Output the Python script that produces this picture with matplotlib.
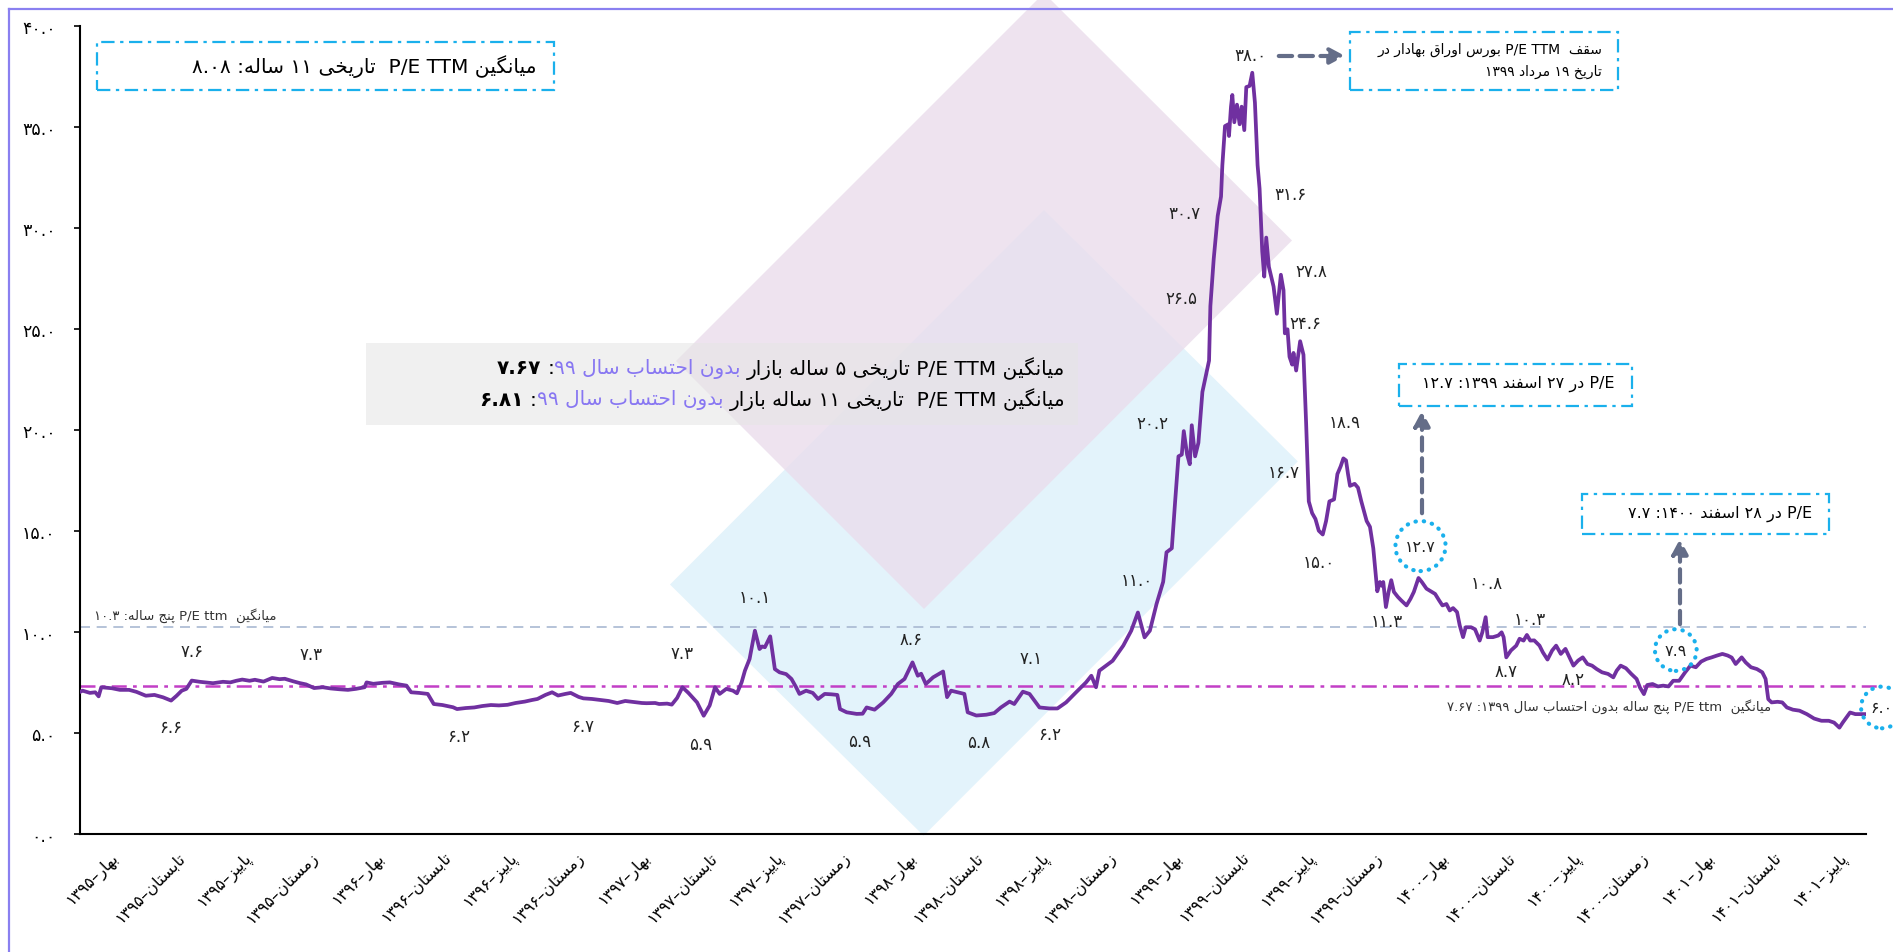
import matplotlib
matplotlib.use("Agg")
import matplotlib.pyplot as plt
from matplotlib.patches import Polygon, Rectangle, FancyArrowPatch

plt.rcParams['font.family'] = ['DejaVu Sans']

# ---------------- data ----------------
# position in quarters since start of spring 1395, P/E TTM value
quarter_pos = [
    -0.05, -0.01, 0.10, 0.18, 0.23, 0.27, 0.43, 0.55, 0.69, 0.80,
    0.94, 1.07, 1.20, 1.32, 1.40, 1.48, 1.55, 1.63, 1.75, 1.95,
    2.10, 2.21, 2.30, 2.39, 2.50, 2.58, 2.71, 2.84, 2.95, 3.03,
    3.15, 3.25, 3.35, 3.47, 3.60, 3.72, 3.85, 3.98, 4.10, 4.23,
    4.26, 4.36, 4.50, 4.61, 4.75, 4.86, 4.93, 5.05, 5.18, 5.27,
    5.40, 5.56, 5.62, 5.75, 5.88, 6.00, 6.13, 6.25, 6.38, 6.50,
    6.64, 6.75, 6.83, 6.95, 7.05, 7.14, 7.25, 7.33, 7.45, 7.52,
    7.65, 7.77, 7.90, 8.03, 8.15, 8.28, 8.40, 8.47, 8.60, 8.66,
    8.78, 8.85, 8.93, 9.01, 9.10, 9.23, 9.33, 9.42, 9.50, 9.57,
    9.67, 9.77, 9.83, 9.90, 9.95, 10.02, 10.10, 10.17, 10.21, 10.25,
    10.33, 10.40, 10.47, 10.57, 10.65, 10.72, 10.77, 10.87, 10.97, 11.05,
    11.15, 11.25, 11.34, 11.38, 11.48, 11.63, 11.72, 11.78, 11.90, 12.03,
    12.15, 12.25, 12.35, 12.47, 12.55, 12.60, 12.67, 12.78, 12.93, 12.99,
    13.05, 13.15, 13.25, 13.30, 13.43, 13.58, 13.70, 13.80, 13.93, 14.00,
    14.13, 14.23, 14.38, 14.53, 14.65, 14.78, 14.93, 15.08, 15.16, 15.23,
    15.28, 15.48, 15.64, 15.76, 15.86, 15.96, 16.04, 16.14, 16.24, 16.29,
    16.37, 16.42, 16.47, 16.52, 16.55, 16.60, 16.64, 16.67, 16.72, 16.77,
    16.83, 16.88, 16.93, 16.95, 17.00, 17.06, 17.11, 17.13, 17.17, 17.22,
    17.23, 17.26, 17.28, 17.31, 17.35, 17.39, 17.42, 17.46, 17.49, 17.54,
    17.58, 17.62, 17.66, 17.69, 17.73, 17.76, 17.79, 17.83, 17.90, 17.95,
    18.01, 18.05, 18.07, 18.11, 18.14, 18.18, 18.20, 18.24, 18.30, 18.35,
    18.39, 18.43, 18.48, 18.53, 18.58, 18.64, 18.69, 18.74, 18.81, 18.86,
    18.91, 18.95, 18.99, 19.02, 19.05, 19.12, 19.17, 19.22, 19.30, 19.35,
    19.40, 19.46, 19.50, 19.53, 19.55, 19.59, 19.63, 19.67, 19.71, 19.77,
    19.82, 19.90, 19.96, 20.01, 20.08, 20.13, 20.20, 20.28, 20.33, 20.39,
    20.44, 20.50, 20.55, 20.60, 20.66, 20.70, 20.75, 20.79, 20.87, 20.93,
    21.00, 21.04, 21.09, 21.12, 21.20, 21.28, 21.33, 21.36, 21.40, 21.47,
    21.55, 21.60, 21.66, 21.71, 21.76, 21.82, 21.90, 21.95, 22.02, 22.09,
    22.15, 22.22, 22.29, 22.35, 22.41, 22.48, 22.55, 22.62, 22.69, 22.76,
    22.84, 22.93, 23.01, 23.06, 23.12, 23.20, 23.28, 23.36, 23.41, 23.47,
    23.52, 23.60, 23.68, 23.76, 23.84, 23.91, 24.00, 24.09, 24.17, 24.25,
    24.33, 24.41, 24.49, 24.57, 24.65, 24.73, 24.79, 24.85, 24.94, 25.00,
    25.08, 25.17, 25.25, 25.30, 25.34, 25.39, 25.48, 25.55, 25.62, 25.71,
    25.81, 25.92, 26.03, 26.14, 26.25, 26.33, 26.41, 26.46, 26.57, 26.65,
    26.73, 26.81,
]
pe_ttm = [
    7.05, 7.11, 7.00, 7.03, 6.83, 7.28, 7.23, 7.15, 7.15, 7.05,
    6.86, 6.90, 6.78, 6.62, 6.85, 7.11, 7.20, 7.61, 7.55, 7.48,
    7.55, 7.52, 7.60, 7.66, 7.60, 7.65, 7.56, 7.74, 7.68, 7.70,
    7.58, 7.49, 7.42, 7.24, 7.28, 7.22, 7.18, 7.15, 7.20, 7.28,
    7.52, 7.45, 7.50, 7.52, 7.42, 7.36, 7.03, 7.00, 6.95, 6.45,
    6.40, 6.29, 6.20, 6.25, 6.28, 6.35, 6.40, 6.38, 6.41, 6.50,
    6.57, 6.65, 6.70, 6.90, 7.03, 6.87, 6.95, 7.00, 6.80, 6.73,
    6.70, 6.65, 6.60, 6.50, 6.60, 6.55, 6.50, 6.49, 6.50, 6.45,
    6.47, 6.42, 6.75, 7.28, 7.00, 6.53, 5.87, 6.38, 7.28, 6.95,
    7.20, 7.11, 6.98, 7.52, 8.10, 8.68, 10.08, 9.17, 9.30, 9.26,
    9.80, 8.18, 8.02, 7.93, 7.69, 7.28, 6.95, 7.11, 7.00, 6.70,
    6.95, 6.93, 6.90, 6.20, 6.04, 5.96, 5.97, 6.28, 6.17, 6.53,
    6.95, 7.44, 7.69, 8.51, 7.85, 7.95, 7.44, 7.77, 8.06, 6.79,
    7.11, 7.03, 6.95, 6.04, 5.88, 5.92, 6.00, 6.28, 6.57, 6.45,
    7.06, 6.95, 6.28, 6.23, 6.23, 6.53, 7.03, 7.52, 7.85, 7.28,
    8.10, 8.59, 9.34, 10.08, 10.98, 9.75, 10.08, 11.40, 12.50, 13.96,
    14.16, 16.48, 18.71, 18.80, 19.96, 18.80, 18.32, 20.25, 18.71, 19.38,
    21.90, 22.67, 23.45, 26.15, 28.48, 30.61, 31.57, 33.12, 35.06, 35.15,
    34.57, 36.02, 36.60, 35.25, 36.12, 35.15, 36.02, 34.86, 36.99, 37.05,
    37.70, 36.22, 33.12, 31.96, 28.86, 27.61, 29.54, 28.09, 27.12, 25.77,
    27.70, 26.93, 24.80, 25.00, 23.64, 23.25, 23.83, 22.96, 24.41, 23.74,
    20.35, 16.48, 15.90, 15.61, 15.03, 14.84, 15.51, 16.48, 16.58, 17.83,
    18.22, 18.61, 18.51, 17.83, 17.25, 17.35, 17.16, 16.48, 15.51, 15.22,
    14.16, 12.03, 12.49, 12.30, 12.49, 11.25, 12.00, 12.58, 12.00, 11.75,
    11.58, 11.33, 11.66, 12.00, 12.69, 12.49, 12.16, 12.00, 11.90, 11.58,
    11.33, 11.40, 11.08, 11.20, 11.00, 10.34, 9.76, 10.25, 10.25, 10.15,
    9.59, 10.00, 10.75, 9.76, 9.76, 9.84, 10.00, 9.76, 8.76, 9.10,
    9.34, 9.68, 9.59, 9.87, 9.59, 9.60, 9.34, 9.01, 8.65, 9.10,
    9.34, 8.93, 9.18, 8.76, 8.35, 8.60, 8.76, 8.43, 8.35, 8.18,
    8.02, 7.94, 7.77, 8.10, 8.35, 8.22, 7.94, 7.69, 7.27, 6.94,
    7.39, 7.44, 7.32, 7.36, 7.32, 7.60, 7.60, 8.02, 8.35, 8.27,
    8.55, 8.68, 8.76, 8.85, 8.93, 8.85, 8.75, 8.43, 8.76, 8.51,
    8.27, 8.18, 8.02, 7.69, 6.69, 6.53, 6.56, 6.53, 6.28, 6.17,
    6.12, 5.95, 5.73, 5.62, 5.62, 5.53, 5.28, 5.53, 6.03, 5.95,
    5.95, 5.95,
]

seasons = ['بهار', 'تابستان', 'پاییز', 'زمستان']
years = ['1395', '1396', '1397', '1398', '1399', '1400', '1401']
n_quarters = 27

avg_5y = 10.25          # level of the dashed line as drawn
avg_5y_ex99 = 7.35      # level of the dash-dot line as drawn

label_q = [1.63, 1.32, 3.43, 5.65, 7.51, 9.01, 9.29, 10.10, 11.68, 12.45,
           13.46, 14.26, 14.53, 15.85, 16.08, 16.51, 16.56, 17.55, 18.15, 18.47,
           18.38, 18.05, 18.58, 18.97, 19.60, 21.10, 21.76, 21.39, 22.41]
label_v = [9.09, 5.30, 8.93, 4.88, 5.38, 8.98, 4.47, 11.73, 4.64, 9.67,
           4.56, 8.71, 4.97, 12.6, 20.35, 26.55, 30.75, 38.6, 31.7, 27.9,
           25.3, 17.95, 13.5, 20.4, 10.55, 12.45, 10.67, 8.10, 7.69]
label_txt = ['7.6', '6.6', '7.3', '6.2', '6.7', '7.3', '5.9', '10.1', '5.9', '8.6',
             '5.8', '7.1', '6.2', '11.0', '20.2', '26.5', '30.7', '38.0', '31.6', '27.8',
             '24.6', '16.7', '15.0', '18.9', '11.3', '10.8', '10.3', '8.7', '8.2']

circ_q = [20.11, 23.95, 27.05]
circ_v = [14.27, 9.12, 6.28]
circ_txt = ['12.7', '7.9', '6.0']

# ---------------- persian text helpers (shaping + rtl ordering) ----------------
FA_DIGITS = str.maketrans('0123456789', '۰۱۲۳۴۵۶۷۸۹')
FORMS = {}
for ch, base, n in [('ا', 0xFE8D, 2), ('آ', 0xFE81, 2), ('ب', 0xFE8F, 4), ('پ', 0xFB56, 4),
                    ('ت', 0xFE95, 4), ('ث', 0xFE99, 4), ('ج', 0xFE9D, 4), ('چ', 0xFB7A, 4),
                    ('ح', 0xFEA1, 4), ('خ', 0xFEA5, 4), ('د', 0xFEA9, 2), ('ذ', 0xFEAB, 2),
                    ('ر', 0xFEAD, 2), ('ز', 0xFEAF, 2), ('ژ', 0xFB8A, 2), ('س', 0xFEB1, 4),
                    ('ش', 0xFEB5, 4), ('ص', 0xFEB9, 4), ('ض', 0xFEBD, 4), ('ط', 0xFEC1, 4),
                    ('ظ', 0xFEC5, 4), ('ع', 0xFEC9, 4), ('غ', 0xFECD, 4), ('ف', 0xFED1, 4),
                    ('ق', 0xFED5, 4), ('ک', 0xFB8E, 4), ('گ', 0xFB92, 4), ('ل', 0xFEDD, 4),
                    ('م', 0xFEE1, 4), ('ن', 0xFEE5, 4), ('و', 0xFEED, 2), ('ه', 0xFEE9, 4),
                    ('ی', 0xFBFC, 4)]:
    FORMS[ch] = [chr(base + i) for i in range(n)]


def shape(s):
    out = []
    for i, c in enumerate(s):
        f = FORMS.get(c)
        if f is None:
            out.append(c)
            continue
        p = s[i - 1] if i else ''
        nx = s[i + 1] if i + 1 < len(s) else ''
        jp = p in FORMS and len(FORMS[p]) == 4
        jn = len(f) == 4 and nx in FORMS
        out.append(f[3] if jp and jn else f[1] if jp else f[2] if jn else f[0])
    return ''.join(out)


def kind(c):
    if c.isdigit():
        return 'N'
    if c.isascii() and c.isalpha():
        return 'L'
    if ord(c) >= 0x600:
        return 'R'
    return 'W'


def fa(s):
    s = shape(s.translate(FA_DIGITS))
    k = [kind(c) for c in s]
    for i in range(1, len(s) - 1):
        if s[i] == '.' and k[i - 1] == 'N' and k[i + 1] == 'N':
            k[i] = 'N'
    base = list(k)
    for i, t in enumerate(base):
        if t == 'W':
            a = next((base[j] for j in range(i - 1, -1, -1) if base[j] != 'W'), 'R')
            b = next((base[j] for j in range(i + 1, len(base)) if base[j] != 'W'), 'R')
            k[i] = 'L' if a == b == 'L' else 'R'
    chars, k = list(s)[::-1], k[::-1]
    out, i = [], 0
    while i < len(chars):
        if k[i] == 'R':
            out.append(chars[i])
            i += 1
        else:
            j = i
            while j < len(chars) and k[j] != 'R':
                j += 1
            out.extend(chars[i:j][::-1])
            i = j
    return ''.join(out)


# ---------------- figure ----------------
W, H = 1893, 953
fig = plt.figure(figsize=(W / 100, H / 100), dpi=100)
fig.patch.set_facecolor('white')


def fp(x, y):
    return (x / W, 1 - y / H)


# background decoration
blue = Polygon([fp(670, 585.5), fp(923.6, 836.7), fp(1297.8, 462.4), fp(1044, 211)],
               closed=True, transform=fig.transFigure, fc='#e3f3fb', ec='none', zorder=-3)
pink = Polygon([fp(676, 362), fp(924, 610), fp(1292, 241.5), fp(1044, -6)],
               closed=True, transform=fig.transFigure, fc='#eaddec', alpha=0.8, ec='none', zorder=-2)
fig.add_artist(blue)
fig.add_artist(pink)
graybox = Rectangle(fp(366, 426), 712 / W, 82 / H, transform=fig.transFigure,
                    fc=(0.90, 0.90, 0.90, 0.6), ec='none', zorder=-1)
fig.add_artist(graybox)

# outer frame (left / top)
fig.add_artist(plt.Line2D([9 / W, 9 / W], [0, 1 - 10 / H], transform=fig.transFigure, color='#8a80f0', lw=1.6))
fig.add_artist(plt.Line2D([9 / W, 1], [1 - 10 / H, 1 - 10 / H], transform=fig.transFigure, color='#8a80f0', lw=1.6))

ax = fig.add_axes([80 / W, 1 - 835.3 / H, 1786 / W, 808 / H])
ax.patch.set_alpha(0)
ax.set_xlim(-0.05, 26.81)
ax.set_ylim(0, 40)

ax.axhline(avg_5y, color='#a9b9d2', lw=1.2, ls=(0, (6, 4)), zorder=1)
ax.plot([-0.05, 27.0], [avg_5y_ex99] * 2, color='#c23fc6', lw=1.8, ls=(0, (6, 2.5, 1.5, 2.5)),
        clip_on=False, zorder=1)
ax.plot(quarter_pos, pe_ttm, color='#7030a0', lw=2.7, zorder=3, solid_joinstyle='round')

for q, v, t in zip(label_q, label_v, label_txt):
    ax.text(q, v, fa(t), ha='center', va='center', fontsize=12, color='#222222')

ax.scatter(circ_q, circ_v, s=[1300, 900, 900], facecolors='none', edgecolors='#1ab0ec',
           linewidths=3, linestyles=(0, (0.1, 1.9)), capstyle='round', clip_on=False, zorder=4)
for q, v, t in zip(circ_q, circ_v, circ_txt):
    ax.text(q, v, fa(t), ha='center', va='center', fontsize=11.5, color='#222222', clip_on=False)

ax.text(2.91, 10.9, fa('میانگین  P/E ttm پنج ساله: 10.3'), ha='right', va='center',
        fontsize=9.5, color='#333333')
ax.text(25.38, 6.35, fa('میانگین  P/E ttm پنج ساله بدون احتساب سال 1399: 7.67'), ha='right',
        va='center', fontsize=9.5, color='#333333')

# axes styling
for s in ['top', 'right']:
    ax.spines[s].set_visible(False)
for s in ['left', 'bottom']:
    ax.spines[s].set_linewidth(1.5)
    ax.spines[s].set_color('black')
ax.set_yticks(range(0, 45, 5))
ax.set_yticklabels([fa(f'{v:.1f}') for v in range(0, 45, 5)], fontsize=12.5)
ax.tick_params(axis='y', length=4.5, width=1.2, pad=13)
quarter_labels = [f'{s}–{y}' for y in years for s in seasons][:n_quarters]
ax.set_xticks([k + 0.5 for k in range(n_quarters)])
ax.set_xticklabels([fa(l) for l in quarter_labels], rotation=45, ha='right', va='center',
                   rotation_mode='anchor', fontsize=11.5)
ax.tick_params(axis='x', length=0, pad=14)

# boxes
box_style = dict(fill=False, ec='#1ab0ec', lw=1.6, ls=(0, (6, 2.5, 1.5, 2.5)), transform=fig.transFigure, zorder=5)
for x0, y0, x1, y1 in [(96.5, 42.5, 553.5, 90.5), (1350, 33, 1618, 90.5),
                       (1399, 365, 1632, 406.5), (1582, 495, 1829, 535)]:
    fig.add_artist(Rectangle(fp(x0, y1), (x1 - x0) / W, (y1 - y0) / H, **box_style))

fig.text(*fp(537, 66.5), fa('میانگین P/E TTM  تاریخی 11 ساله: 8.08'), ha='right', va='center', fontsize=14.5)
fig.text(*fp(1602, 50), fa('سقف  P/E TTM بورس اوراق بهادار در'), ha='right', va='center', fontsize=10)
fig.text(*fp(1602, 72), fa('تاریخ 19 مرداد 1399'), ha='right', va='center', fontsize=10)
fig.text(*fp(1615, 384), fa('P/E در 27 اسفند 1399: 12.7'), ha='right', va='center', fontsize=11.5)
fig.text(*fp(1812, 514), fa('P/E در 28 اسفند 1400: 7.7'), ha='right', va='center', fontsize=11.5)

# two-colour lines in the grey box
renderer = fig.canvas.get_renderer()
purple_txt = '#8877f2'


def rtl_line(parts, x_right, y, size):
    x = x_right
    for txt, color, weight in parts:
        gap = len(txt) - len(txt.rstrip(' '))
        t = fig.text(x / W, 1 - y / H, fa(txt.strip(' ')), ha='right', va='center',
                     fontsize=size, color=color, fontweight=weight)
        bb = t.get_window_extent(renderer)
        x = bb.x0 - gap * size * 0.42


rtl_line([('میانگین P/E TTM تاریخی 5 ساله بازار ', 'black', 'normal'),
          ('بدون احتساب سال 99', purple_txt, 'normal'),
          (': ', 'black', 'normal'),
          ('7.67', 'black', 'bold')], 1065, 369, 14.5)
rtl_line([('میانگین P/E TTM  تاریخی 11 ساله بازار ', 'black', 'normal'),
          ('بدون احتساب سال 99', purple_txt, 'normal'),
          (': ', 'black', 'normal'),
          ('6.81', 'black', 'bold')], 1065, 400, 14.5)

# arrows
arrow_kw = dict(transform=fig.transFigure, arrowstyle='-|>,head_length=0.6,head_width=0.32',
                mutation_scale=15, color='#646d88', lw=3, ls=(0, (3.2, 1.8)), zorder=6)
for a, b in [((1276, 57), (1348, 57)), ((1422, 517), (1422, 409)), ((1680, 628), (1680, 537))]:
    fig.add_artist(FancyArrowPatch(fp(*a), fp(*b), **arrow_kw))

fig.savefig('out.png', dpi=100)
